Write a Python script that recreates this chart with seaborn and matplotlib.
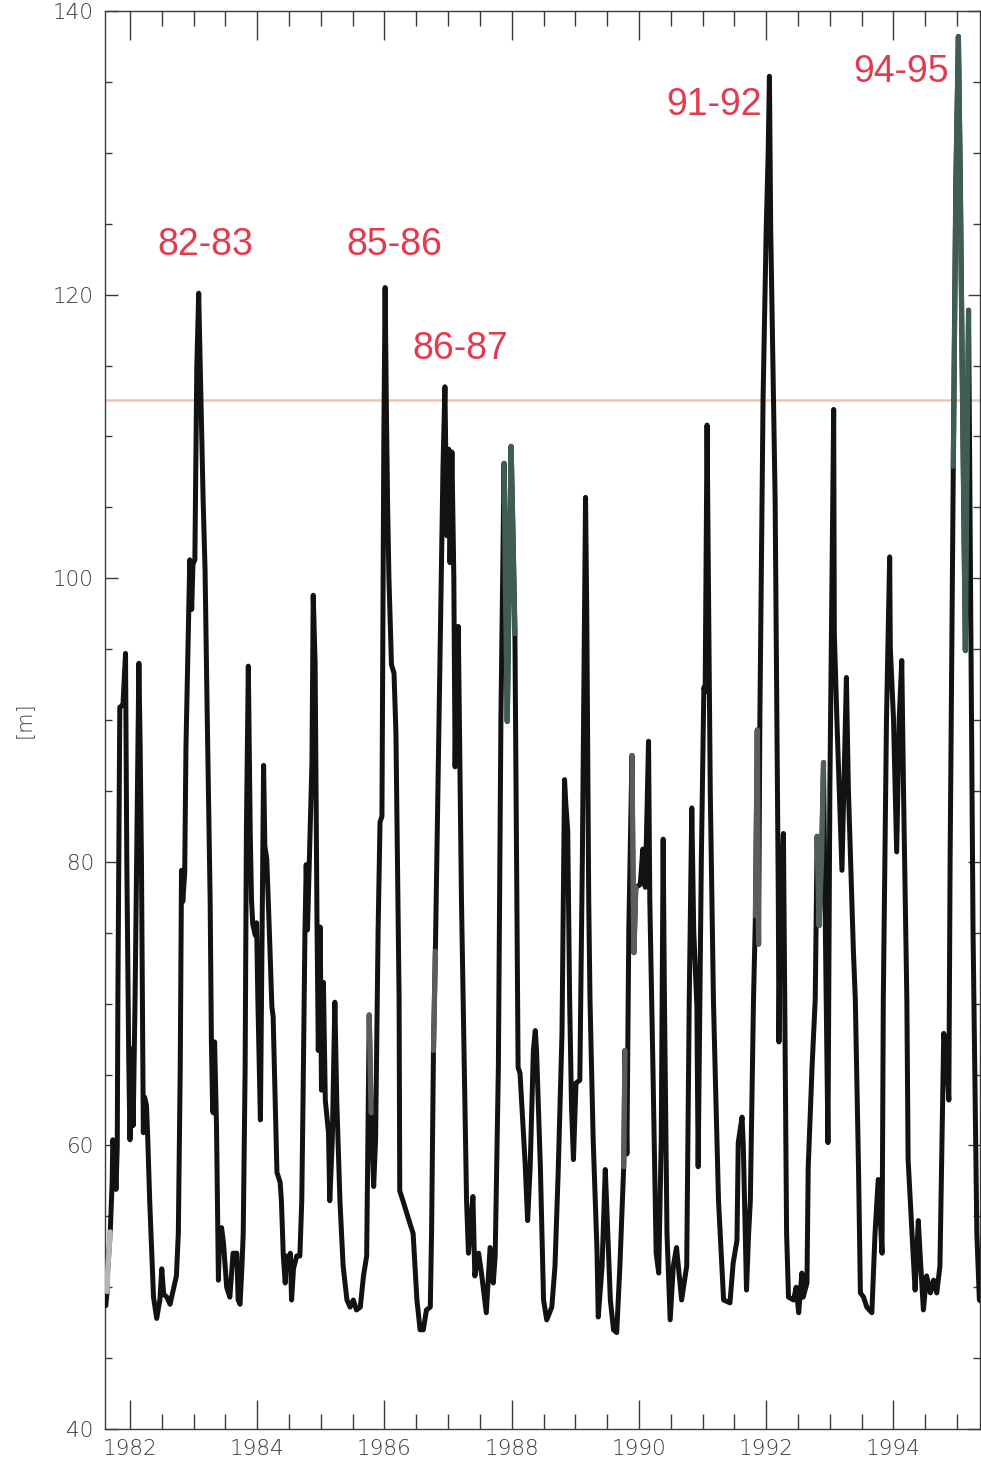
import matplotlib
matplotlib.use("Agg")
import matplotlib.pyplot as plt
from matplotlib.ticker import MultipleLocator
import pandas as pd
import seaborn as sns

# Mixed-layer depth record, decimal year vs depth in metres
years = [
    1981.62, 1981.64, 1981.65, 1981.69, 1981.72, 1981.73, 1981.76, 1981.78, 1981.80, 1981.81,
    1981.84, 1981.87, 1981.89, 1981.93, 1981.95, 1981.98, 1982.00, 1982.03, 1982.05, 1982.08,
    1982.14, 1982.16, 1982.18, 1982.21, 1982.23, 1982.26, 1982.28, 1982.31, 1982.37, 1982.42,
    1982.47, 1982.50, 1982.53, 1982.58, 1982.63, 1982.68, 1982.73, 1982.76, 1982.79, 1982.81,
    1982.83, 1982.86, 1982.88, 1982.94, 1982.97, 1982.99, 1983.02, 1983.05, 1983.08, 1983.10,
    1983.15, 1983.18, 1983.21, 1983.26, 1983.28, 1983.30, 1983.31, 1983.33, 1983.36, 1983.39,
    1983.41, 1983.44, 1983.47, 1983.52, 1983.57, 1983.62, 1983.68, 1983.70, 1983.73, 1983.76,
    1983.78, 1983.81, 1983.83, 1983.86, 1983.89, 1983.91, 1983.93, 1983.97, 1983.99, 1984.01,
    1984.05, 1984.10, 1984.12, 1984.15, 1984.19, 1984.23, 1984.25, 1984.31, 1984.36, 1984.38,
    1984.41, 1984.44, 1984.46, 1984.49, 1984.52, 1984.54, 1984.57, 1984.62, 1984.67, 1984.70,
    1984.72, 1984.75, 1984.77, 1984.79, 1984.82, 1984.86, 1984.88, 1984.91, 1984.94, 1984.96,
    1984.99, 1985.01, 1985.04, 1985.07, 1985.09, 1985.12, 1985.14, 1985.18, 1985.22, 1985.25,
    1985.30, 1985.35, 1985.41, 1985.46, 1985.51, 1985.56, 1985.62, 1985.67, 1985.72, 1985.76,
    1985.79, 1985.83, 1985.86, 1985.90, 1985.93, 1985.96, 1985.99, 1986.01, 1986.03, 1986.05,
    1986.07, 1986.11, 1986.15, 1986.18, 1986.23, 1986.24, 1986.29, 1986.40, 1986.45, 1986.51,
    1986.56, 1986.61, 1986.66, 1986.72, 1986.74, 1986.77, 1986.80, 1986.84, 1986.92, 1986.95,
    1986.98, 1987.01, 1987.03, 1987.06, 1987.09, 1987.11, 1987.13, 1987.16, 1987.21, 1987.29,
    1987.32, 1987.35, 1987.39, 1987.42, 1987.48, 1987.53, 1987.60, 1987.66, 1987.71, 1987.74,
    1987.79, 1987.83, 1987.88, 1987.90, 1987.93, 1987.96, 1987.99, 1988.02, 1988.05, 1988.08,
    1988.10, 1988.13, 1988.21, 1988.25, 1988.29, 1988.34, 1988.37, 1988.39, 1988.45, 1988.50,
    1988.55, 1988.63, 1988.68, 1988.73, 1988.79, 1988.83, 1988.85, 1988.88, 1988.91, 1988.94,
    1988.97, 1989.01, 1989.07, 1989.11, 1989.16, 1989.18, 1989.21, 1989.23, 1989.28, 1989.34,
    1989.36, 1989.42, 1989.47, 1989.49, 1989.55, 1989.60, 1989.65, 1989.70, 1989.76, 1989.78,
    1989.81, 1989.84, 1989.89, 1989.91, 1989.92, 1989.95, 1990.02, 1990.06, 1990.10, 1990.15,
    1990.17, 1990.22, 1990.27, 1990.31, 1990.35, 1990.38, 1990.40, 1990.44, 1990.49, 1990.54,
    1990.59, 1990.67, 1990.75, 1990.79, 1990.83, 1990.86, 1990.91, 1990.93, 1990.98, 1991.02,
    1991.04, 1991.07, 1991.12, 1991.17, 1991.20, 1991.25, 1991.33, 1991.43, 1991.48, 1991.54,
    1991.56, 1991.62, 1991.64, 1991.69, 1991.72, 1991.75, 1991.80, 1991.83, 1991.86, 1991.88,
    1991.90, 1991.95, 1992.00, 1992.03, 1992.05, 1992.07, 1992.14, 1992.19, 1992.20, 1992.22,
    1992.27, 1992.30, 1992.32, 1992.35, 1992.43, 1992.47, 1992.51, 1992.56, 1992.58, 1992.64,
    1992.66, 1992.72, 1992.77, 1992.80, 1992.83, 1992.87, 1992.90, 1992.93, 1992.97, 1993.00,
    1993.06, 1993.07, 1993.11, 1993.19, 1993.26, 1993.29, 1993.37, 1993.40, 1993.42, 1993.45,
    1993.48, 1993.53, 1993.58, 1993.66, 1993.71, 1993.76, 1993.82, 1993.84, 1993.89, 1993.94,
    1993.95, 1994.00, 1994.05, 1994.09, 1994.13, 1994.16, 1994.21, 1994.23, 1994.31, 1994.34,
    1994.39, 1994.42, 1994.47, 1994.52, 1994.58, 1994.63, 1994.68, 1994.73, 1994.79, 1994.83,
    1994.87, 1994.89, 1994.94, 1994.98, 1995.02, 1995.05, 1995.08, 1995.13, 1995.15, 1995.18,
    1995.21, 1995.25, 1995.31, 1995.35, 1995.38,
]

depth = [
    48.7, 49.7, 51.2, 53.9, 57.4, 60.4, 59.4, 56.9, 59.9, 70.3,
    90.9, 91.0, 91.1, 94.7, 80.2, 66.3, 60.4, 66.8, 61.4, 70.3,
    94.0, 88.1, 80.2, 60.9, 63.4, 62.8, 60.4, 56.1, 49.3, 47.8,
    49.1, 51.3, 49.5, 49.3, 48.8, 49.8, 50.8, 53.8, 65.5, 79.4,
    77.2, 79.2, 88.1, 101.3, 97.8, 101.0, 101.3, 114.8, 120.1, 115.8,
    105.5, 100.6, 91.5, 77.3, 67.2, 62.4, 62.3, 67.3, 61.4, 50.5,
    53.9, 54.2, 53.1, 50.0, 49.3, 52.4, 52.4, 49.1, 48.8, 51.5,
    53.8, 65.5, 82.2, 93.8, 82.1, 77.3, 75.6, 74.8, 75.7, 70.3,
    61.8, 86.8, 81.1, 80.2, 75.2, 69.8, 69.1, 58.1, 57.4, 56.1,
    52.2, 50.3, 52.2, 51.5, 52.4, 49.1, 51.3, 52.2, 52.2, 56.1,
    63.2, 75.0, 79.8, 75.2, 80.2, 87.0, 98.8, 94.0, 75.4, 66.7,
    75.4, 63.9, 71.5, 63.2, 62.3, 60.9, 56.1, 60.4, 70.1, 63.2,
    56.1, 51.5, 49.1, 48.6, 49.1, 48.4, 48.6, 50.8, 52.2, 69.2,
    62.3, 57.1, 60.4, 75.2, 82.8, 83.2, 109.9, 120.5, 111.9, 104.9,
    100.0, 93.9, 93.3, 89.1, 70.3, 56.8, 56.1, 54.5, 53.8, 49.1,
    47.0, 47.0, 48.4, 48.6, 53.8, 66.7, 73.7, 85.1, 107.9, 113.5,
    103.0, 109.1, 101.1, 108.9, 100.0, 86.7, 93.0, 96.6, 77.3, 56.1,
    52.4, 54.2, 56.4, 50.8, 52.4, 50.8, 48.2, 52.8, 50.3, 52.2,
    65.5, 90.1, 108.1, 100.0, 89.9, 100.0, 109.3, 103.0, 96.1, 77.3,
    65.5, 65.1, 58.8, 54.7, 58.5, 66.7, 68.1, 66.7, 58.5, 49.1,
    47.7, 48.6, 51.5, 58.1, 67.9, 85.8, 84.1, 82.2, 70.3, 62.7,
    59.0, 64.4, 64.6, 80.2, 105.7, 97.1, 77.3, 70.3, 60.4, 52.6,
    47.9, 51.5, 58.3, 56.1, 49.1, 47.0, 46.8, 51.5, 58.5, 66.7,
    59.4, 75.2, 87.5, 77.2, 73.6, 78.2, 78.4, 80.9, 78.2, 88.5,
    77.3, 65.3, 52.4, 51.0, 60.4, 81.6, 70.3, 53.8, 47.7, 51.5,
    52.8, 49.1, 51.5, 70.3, 83.8, 75.2, 69.8, 58.5, 80.2, 92.3,
    92.0, 110.8, 85.1, 70.3, 64.8, 56.1, 49.1, 48.9, 51.7, 53.3,
    60.2, 62.0, 59.9, 49.8, 53.5, 56.1, 70.3, 76.2, 89.3, 74.2,
    90.1, 112.6, 124.7, 129.9, 135.4, 124.7, 105.5, 77.3, 67.3, 76.8,
    82.0, 65.5, 53.8, 49.3, 49.1, 50.0, 48.2, 51.0, 49.3, 50.3,
    58.5, 65.5, 70.3, 81.8, 75.5, 80.2, 87.0, 75.0, 60.2, 85.1,
    111.9, 96.1, 90.1, 79.4, 93.0, 85.3, 73.7, 70.3, 65.5, 58.5,
    49.6, 49.3, 48.6, 48.2, 53.8, 57.6, 52.4, 70.3, 90.1, 101.5,
    95.1, 90.1, 80.7, 90.1, 94.2, 84.3, 70.3, 59.0, 52.2, 49.8,
    54.7, 52.2, 48.4, 50.8, 49.6, 50.5, 49.6, 51.5, 67.9, 66.3,
    63.2, 80.2, 107.9, 127.7, 138.2, 128.0, 114.8, 94.9, 104.9, 118.9,
    100.0, 75.2, 53.8, 49.1, 49.0,
]

# Reference depth level drawn as a horizontal line
threshold = 112.6

# Winter events named above their peaks
event_labels = ["82-83", "85-86", "86-87", "91-92", "94-95"]
event_x = [1983.18, 1986.15, 1987.19, 1991.18, 1994.12]
event_y = [123.5, 123.5, 116.2, 133.4, 135.7]

# Stretches of the record drawn in a tinted ink
highlight_start = [1981.64, 1985.74, 1986.76, 1987.84, 1989.74, 1989.86, 1991.82, 1992.78, 1994.92]
highlight_end = [1981.70, 1985.80, 1986.81, 1988.06, 1989.80, 1989.96, 1991.89, 1992.92, 1995.20]
highlight_color = ["#b4b4b4", "#5c5c5c", "#5c5c5c", "#3f5d55", "#5c5c5c", "#5c5c5c",
                   "#5c5c5c", "#4f5f5a", "#3f5d55"]

xtick_labels = ["1982", "1984", "1986", "1988", "1990", "1992", "1994"]
ytick_labels = ["40", "60", "80", "100", "120", "140"]

sns.set_theme(style="ticks")
plt.rcParams["font.family"] = ["DejaVu Sans"]

fig = plt.figure(figsize=(9.81, 14.69), dpi=100)
ax = fig.add_axes([0.107, 0.0272, 0.892, 0.9653])

df = pd.DataFrame({"year": years, "depth": depth})

ax.axhline(threshold, color="#f2c4ad", lw=1.8, zorder=1)

sns.lineplot(data=df, x="year", y="depth", ax=ax, color="#121212", lw=3.6,
             sort=False, estimator=None, zorder=3,
             solid_joinstyle="round", solid_capstyle="round")

for s, e, c in zip(highlight_start, highlight_end, highlight_color):
    part = df[(df["year"] >= s) & (df["year"] <= e)]
    sns.lineplot(data=part, x="year", y="depth", ax=ax, color=c, lw=3.8,
                 sort=False, estimator=None, zorder=4,
                 solid_joinstyle="round", solid_capstyle="round")

for lab, x, y in zip(event_labels, event_x, event_y):
    ax.text(x, y, lab, color="#e23b50", fontsize=27, ha="center", va="center",
            family=["Liberation Sans", "DejaVu Sans"], zorder=5)

ax.set_xlim(1981.607, 1995.36)
ax.set_ylim(40, 140)

ax.set_xticks([int(t) for t in xtick_labels])
ax.set_xticklabels(xtick_labels)
ax.set_yticks([int(t) for t in ytick_labels])
ax.set_yticklabels(ytick_labels)
ax.xaxis.set_minor_locator(MultipleLocator(0.5))
ax.yaxis.set_minor_locator(MultipleLocator(5))

ax.tick_params(which="both", direction="in", top=True, right=True,
               color="#3a3a3a", width=1.0)
ax.tick_params(axis="x", which="major", length=21, pad=7,
               labelsize=15.5, labelcolor="#3a3a3a")
ax.tick_params(axis="x", which="minor", length=10.5)
ax.tick_params(axis="y", which="major", length=9, pad=8,
               labelsize=15.5, labelcolor="#3a3a3a")
ax.tick_params(axis="y", which="minor", length=5)

for t in ax.get_xticklabels() + ax.get_yticklabels():
    t.set_fontweight("light")

for sp in ax.spines.values():
    sp.set_color("#3a3a3a")
    sp.set_linewidth(1.0)

ax.set_xlabel("")
ax.set_ylabel("[m]", fontsize=15, color="#444444", labelpad=14, fontweight="light")
ax.grid(False)

fig.savefig("out.png", dpi=100, facecolor="white")
